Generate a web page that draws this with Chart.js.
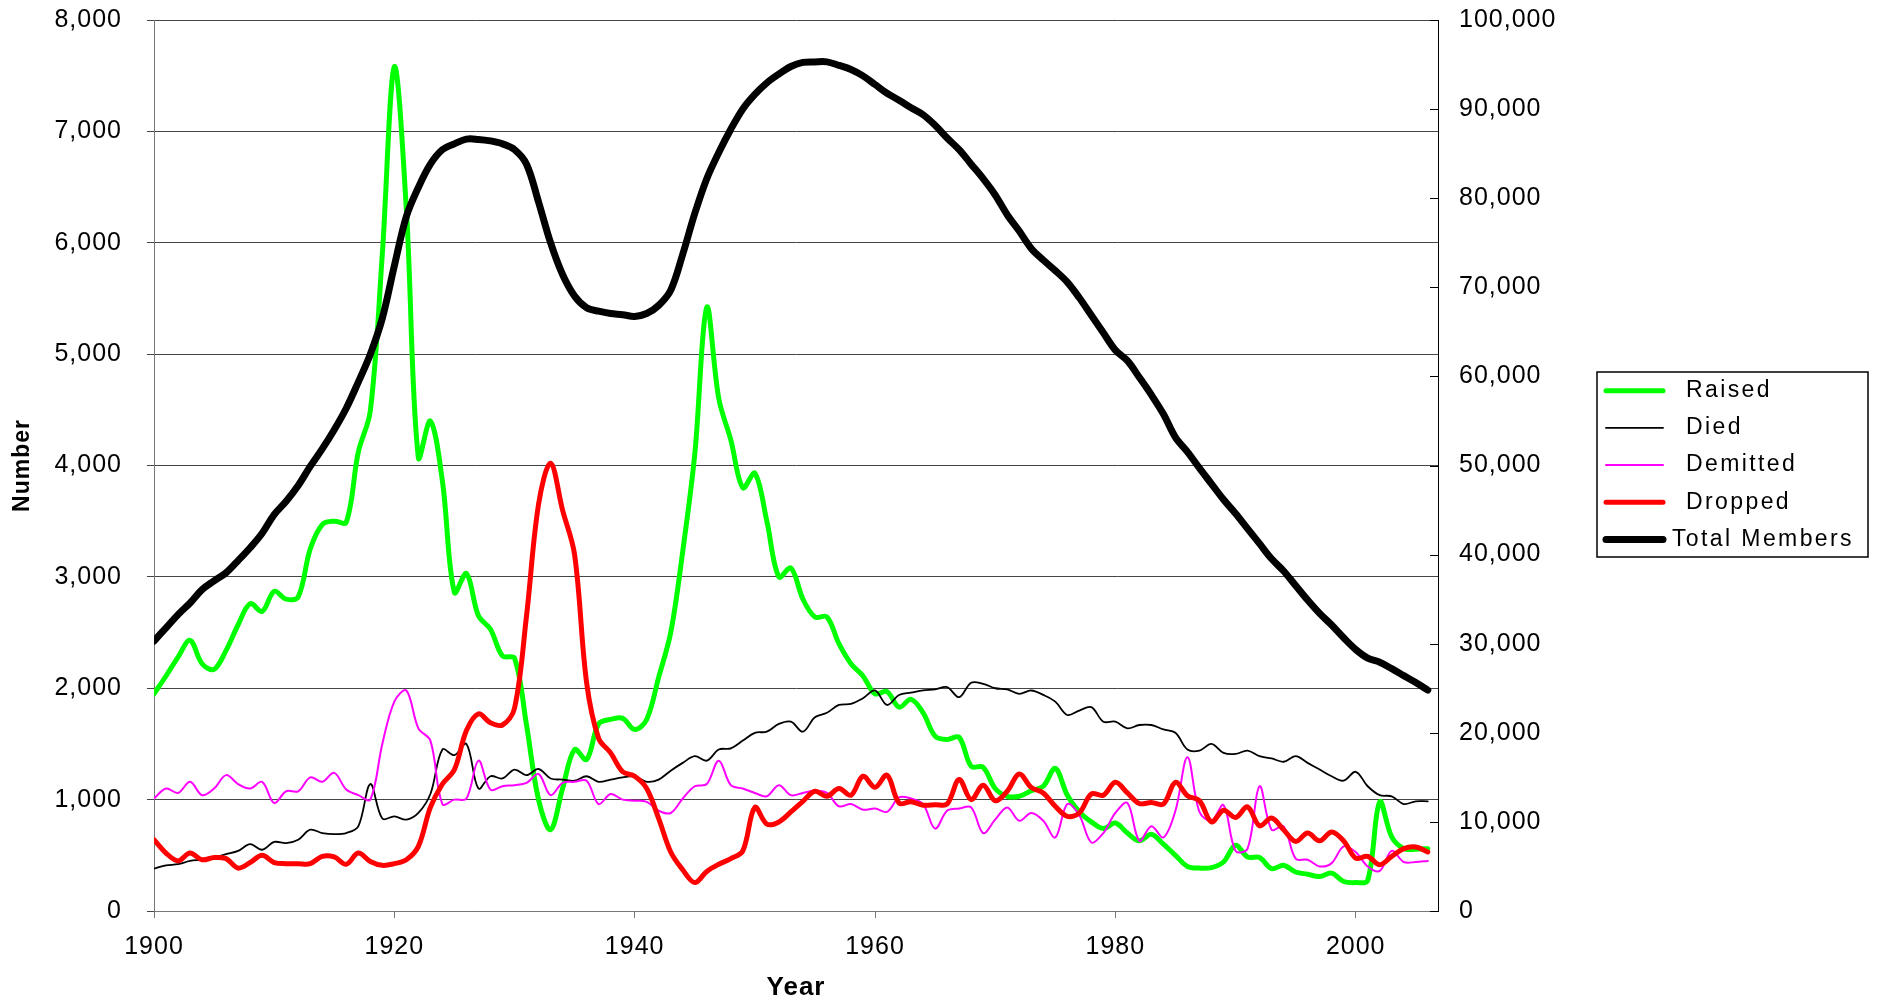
<!DOCTYPE html>
<html>
<head>
<meta charset="utf-8">
<title>Members by year</title>
<script src="https://cdn.jsdelivr.net/npm/chart.js@4.4.1/dist/chart.umd.min.js"></script>
<style>
  html, body { margin: 0; padding: 0; background: #fff; }
  #wrap { width: 1879px; height: 1003px; }
</style>
</head>
<body>
<div id="wrap"><canvas id="membersChart" width="1879" height="1003"></canvas></div>
<script>
// Years on the x axis (one value per year)
const years = [];
for (let y = 1900; y <= 2006; y++) years.push(y);

// Yearly counts, left axis
const raised = [
  1950, 2110, 2280, 2430, 2220, 2170, 2340, 2570, 2760, 2690,
  2870, 2800, 2820, 3250, 3470, 3500, 3490, 4120, 4490, 5900,
  7580, 6300, 4070, 4400, 3860, 2860, 3030, 2650, 2530, 2290,
  2270, 1670, 1000, 730, 1100, 1450, 1360, 1680, 1720, 1730,
  1630, 1720, 2100, 2500, 3230, 4100, 5420, 4600, 4230, 3800,
  3930, 3500, 3000, 3080, 2800, 2640, 2640, 2400, 2220, 2110,
  1950, 1970, 1830, 1900, 1780, 1570, 1540, 1560, 1300, 1290,
  1100, 1030, 1030, 1080, 1120, 1280, 1040, 890, 800, 740,
  790, 700, 630, 690, 600, 500, 400, 385, 390, 440,
  590, 485, 480, 380, 410, 350, 330, 310, 340, 265,
  255, 275, 980, 665, 560, 555, 560
];
const died = [
  380, 410, 420, 450, 460, 480, 510, 540, 600, 550,
  620, 610, 640, 730, 700, 690, 700, 760, 1140, 830,
  850, 820, 880, 1050, 1450, 1400, 1500, 1100, 1210, 1190,
  1270, 1220, 1275, 1190, 1180, 1170, 1210, 1160, 1180, 1200,
  1210, 1160, 1180, 1260, 1330, 1390, 1350, 1450, 1460, 1530,
  1600, 1610, 1680, 1700, 1610, 1740, 1780, 1850, 1860, 1910,
  1980, 1850, 1940, 1960, 1980, 1990, 2010, 1920, 2050, 2040,
  2000, 1990, 1950, 1980, 1940, 1880, 1760, 1800, 1830, 1700,
  1700, 1640, 1670, 1670, 1630, 1600, 1450, 1440, 1500, 1420,
  1410, 1440, 1390, 1370, 1340, 1390, 1330, 1270, 1210, 1170,
  1250, 1120, 1040, 1030, 960, 985, 985
];
const demitted = [
  1010, 1100, 1060, 1160, 1040, 1100, 1220, 1140, 1100, 1160,
  970, 1075, 1075, 1200, 1160, 1240, 1090, 1040, 1000, 1500,
  1880, 1980, 1640, 1530, 960, 1000, 1010, 1350, 1090, 1120,
  1130, 1150, 1230, 1040, 1150, 1160, 1170, 960, 1050, 1000,
  990, 980, 900, 880, 1010, 1120, 1140, 1350, 1130, 1100,
  1060, 1030, 1130, 1040, 1060, 1080, 1060, 940, 960, 910,
  920, 890, 1020, 1010, 960, 740, 900, 920, 930, 700,
  820, 930, 810, 880, 810, 660, 960, 860, 615, 700,
  880, 970, 630, 760, 660, 900, 1380, 890, 810, 950,
  540, 560, 1120, 730, 760, 470, 460, 400, 430, 580,
  530, 400, 360, 540, 440, 440, 450
];
const dropped = [
  640, 520, 450, 520, 460, 480, 470, 385, 435, 500,
  435, 425, 425, 425, 490, 485, 420, 520, 445, 410,
  425, 460, 580, 930, 1140, 1270, 1620, 1770, 1690, 1670,
  1820, 2650, 3650, 4020, 3600, 3200, 2050, 1550, 1420, 1250,
  1210, 1100, 830, 530, 370, 255, 355, 420, 470, 540,
  930, 780, 800, 890, 985, 1075, 1030, 1100, 1040, 1210,
  1110, 1220, 970, 980, 950, 955, 960, 1180, 1000, 1130,
  990, 1075, 1230, 1110, 1060, 940, 850, 880, 1050, 1040,
  1155, 1060, 965, 975, 960, 1155, 1035, 990, 800, 905,
  840, 935, 765, 835, 730, 625, 700, 630, 710, 630,
  475, 490, 415, 490, 560, 575, 530
];

// Total membership, right axis
const totalMembers = [
  30300, 31770, 33270, 34570, 36070, 37050, 37960, 39330, 40770, 42400,
  44490, 45990, 47750, 49900, 51860, 54010, 56420, 59360, 62490, 66530,
  72400, 77950, 81210, 83820, 85450, 86100, 86630, 86600, 86430, 86100,
  85450, 83820, 79580, 75010, 71430, 69010, 67710, 67320, 67060, 66930,
  66730, 67060, 67970, 69670, 73710, 78280, 82190, 85130, 87740, 90020,
  91650, 92950, 93930, 94780, 95240, 95300, 95300, 94910, 94450, 93730,
  92760, 91780, 91000, 90150, 89370, 88190, 86760, 85450, 83820, 82190,
  80360, 78150, 76320, 74360, 73060, 71880, 70580, 68820, 66860, 64900,
  62950, 61770, 59880, 57920, 55770, 53160, 51530, 49700, 47940, 46180,
  44620, 42920, 41230, 39530, 38160, 36530, 34900, 33400, 32090, 30660,
  29350, 28380, 27920, 27200, 26420, 25640, 24790
];

const seriesNames = ['Raised', 'Died', 'Demitted', 'Dropped', 'Total Members'];

// pair every value with its year for the linear x axis
function toPoints(values) {
    return values.map((v, i) => ({ x: years[i], y: v }));
}

const fontFamily = '"Liberation Sans", Arial, sans-serif';
Chart.defaults.font.family = fontFamily;
Chart.defaults.color = '#000';

// Slightly wider letter spacing, like the original rendering
const spacedText = {
    id: 'spacedText',
    beforeUpdate(chart) { chart.ctx.letterSpacing = '1px'; },
    beforeDraw(chart) { chart.ctx.letterSpacing = '1px'; }
};

// Tick marks on the right axis point into the plot
const innerTicks = {
    id: 'innerTicks',
    afterDatasetsDraw(chart) {
        const scale = chart.scales.y2;
        const ctx = chart.ctx;
        ctx.save();
        ctx.strokeStyle = '#000';
        ctx.lineWidth = 1;
        scale.ticks.forEach(t => {
            const y = Math.round(scale.getPixelForValue(t.value)) + 0.5;
            ctx.beginPath();
            ctx.moveTo(scale.left - 8, y);
            ctx.lineTo(scale.left, y);
            ctx.stroke();
        });
        ctx.restore();
    }
};

// Framed legend to the right of the plot
const boxLegend = {
    id: 'boxLegend',
    afterDraw(chart, args, opts) {
        const ctx = chart.ctx;
        ctx.save();
        ctx.strokeStyle = '#000';
        ctx.lineWidth = 1.5;
        ctx.strokeRect(opts.left, opts.top, opts.width, opts.height);
        ctx.font = opts.font;
        ctx.letterSpacing = opts.letterSpacing;
        ctx.textBaseline = 'middle';
        ctx.fillStyle = '#000';
        chart.data.datasets.forEach((ds, i) => {
            const y = opts.top + opts.firstRow + i * opts.rowGap;
            ctx.strokeStyle = ds.borderColor;
            ctx.lineWidth = ds.borderWidth;
            ctx.lineCap = 'round';
            ctx.beginPath();
            ctx.moveTo(opts.left + 9, y);
            ctx.lineTo(opts.left + 9 + opts.lineLen, y);
            ctx.stroke();
            const w = ctx.measureText(ds.label).width;
            const tx = Math.min(opts.left + opts.textX, opts.left + opts.width - 14 - w);
            ctx.fillText(ds.label, tx, y);
        });
        ctx.restore();
    }
};

// keep the y axes from pushing the plot down for their end labels
function noEndPadding(s) {
    s.paddingTop = 0;
    s.paddingBottom = 0;
}

const ctx = document.getElementById('membersChart').getContext('2d');
const membersChart = new Chart(ctx, {
    type: 'line',
    data: {
        datasets: [{
            label: seriesNames[0],
            data: toPoints(raised),
            borderColor: '#00ff00',
            borderWidth: 5,
            yAxisID: 'y',
            order: 4
        }, {
            label: seriesNames[1],
            data: toPoints(died),
            borderColor: '#000000',
            borderWidth: 1.8,
            yAxisID: 'y',
            order: 3
        }, {
            label: seriesNames[2],
            data: toPoints(demitted),
            borderColor: '#ff00ff',
            borderWidth: 2,
            yAxisID: 'y',
            order: 2
        }, {
            label: seriesNames[3],
            data: toPoints(dropped),
            borderColor: '#ff0000',
            borderWidth: 5,
            yAxisID: 'y',
            order: 1
        }, {
            label: seriesNames[4],
            data: toPoints(totalMembers),
            borderColor: '#000000',
            borderWidth: 7,
            yAxisID: 'y2',
            order: 0
        }]
    },
    options: {
        responsive: false,
        animation: false,
        layout: { padding: { top: 20, right: 281, bottom: 0, left: 0 } },
        elements: {
            point: { radius: 0, hoverRadius: 0 },
            line: { tension: 0.35, fill: false, borderJoinStyle: 'round', borderCapStyle: 'round' }
        },
        plugins: {
            legend: { display: false },
            tooltip: { enabled: false },
            boxLegend: {
                left: 1597, top: 372, width: 271, height: 185,
                firstRow: 18.7, rowGap: 37.2, lineLen: 57, textX: 89,
                font: '23px ' + fontFamily, letterSpacing: '2.4px'
            }
        },
        scales: {
            x: {
                type: 'linear',
                min: 1900,
                max: 2006.85,
                afterFit: s => { s.height = 92; },
                border: { display: true, color: '#777', width: 1 },
                grid: { drawOnChartArea: false, drawTicks: true, tickLength: 7, color: '#777' },
                ticks: {
                    stepSize: 20,
                    includeBounds: false,
                    autoSkip: false,
                    maxRotation: 0,
                    padding: 14,
                    font: { size: 25 },
                    callback: v => String(v)
                },
                title: {
                    display: true,
                    text: 'Year',
                    font: { size: 26, weight: 'bold' },
                    padding: { top: 0, bottom: 0 }
                }
            },
            y: {
                position: 'left',
                min: 0,
                max: 8000,
                afterFit: s => { s.width = 154; noEndPadding(s); },
                border: { display: true, color: '#777', width: 1 },
                grid: { color: '#444', lineWidth: 1, tickLength: 7 },
                ticks: { stepSize: 1000, padding: 25, font: { size: 25 } },
                title: {
                    display: true,
                    text: 'Number',
                    font: { size: 23, weight: 'bold' },
                    padding: { top: 9, bottom: 0 }
                }
            },
            y2: {
                position: 'right',
                min: 0,
                max: 100000,
                afterFit: s => { s.width = 160; noEndPadding(s); },
                border: { display: true, color: '#000', width: 1 },
                grid: { drawOnChartArea: false, drawTicks: false },
                ticks: { stepSize: 10000, padding: 21, font: { size: 25 } }
            }
        }
    },
    plugins: [spacedText, innerTicks, boxLegend]
});
</script>
</body>
</html>
